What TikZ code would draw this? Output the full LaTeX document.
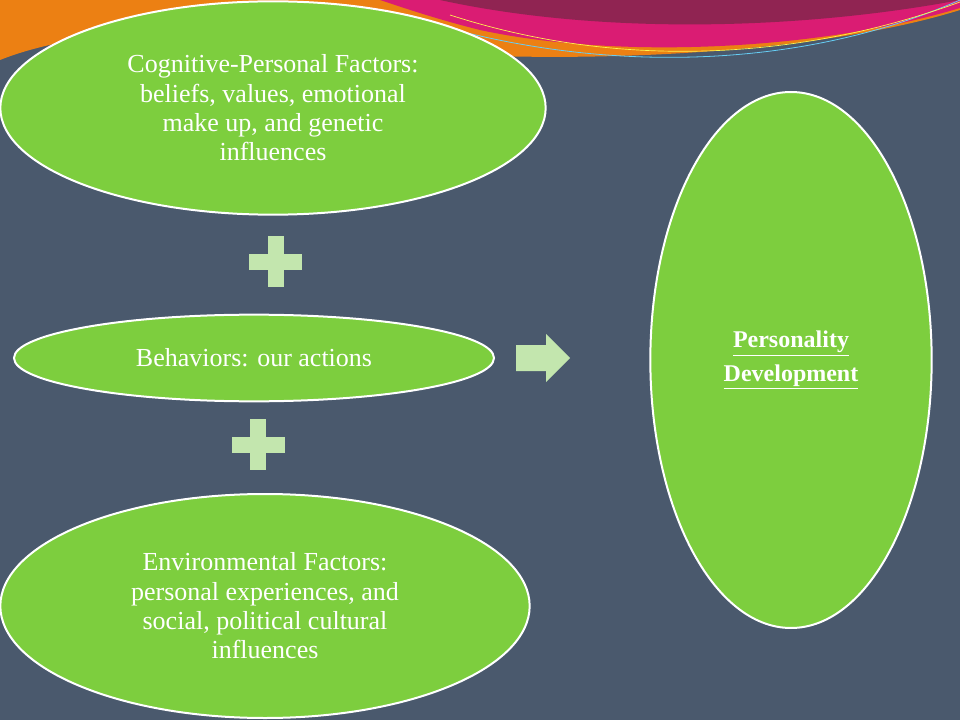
\documentclass[tikz,border=0pt]{standalone}
\usepackage{fontspec}
\usetikzlibrary{shapes.geometric}
\setmainfont{Liberation Serif}
\begin{document}
\begin{tikzpicture}[x=0.75pt,y=-0.75pt]
\definecolor{bg}{HTML}{4A596D}
\definecolor{gr}{HTML}{7DCE3E}
\definecolor{pl}{HTML}{C3E6AE}
\tikzset{ell/.style={ellipse,draw=white,line width=1.5pt,fill=gr,text=white,align=center,font=\fontsize{19.5}{22}\selectfont,inner sep=0pt},
plus/.style={fill=pl,draw=none}}
\fill[bg] (0,0) rectangle (960,720);
\useasboundingbox (0,0) rectangle (960,720);
% top swoosh
\fill[orange!70!brown] (0,0) -- (960,0) -- (960,10) .. controls (800,60) and (500,70) .. (300,40) .. controls (150,20) and (50,40) .. (0,60) -- cycle;
\fill[magenta!60!purple] (380,0) -- (960,0) -- (960,8) .. controls (820,50) and (620,60) .. (480,30) .. controls (440,20) and (410,10) .. (380,0) -- cycle;
\fill[purple!60!bg] (440,0) -- (960,0) .. controls (800,30) and (600,35) .. (440,0) -- cycle;
\draw[cyan!60,line width=0.6pt] (420,20) .. controls (600,75) and (800,70) .. (960,0);
\draw[yellow!70,line width=0.5pt] (450,15) .. controls (620,70) and (800,60) .. (960,2);
\node[ell,minimum width=409pt,minimum height=160pt] (cog) at (273,108) {Cognitive-Personal Factors:\\beliefs, values, emotional\\make up, and genetic\\influences};
\node[ell,minimum width=360pt,minimum height=65pt] (beh) at (254,358) {Behaviors: our actions};
\node[ell,minimum width=397pt,minimum height=168pt] (env) at (265,606) {Environmental Factors:\\personal experiences, and\\social, political cultural\\influences};
\node[ell,minimum width=211pt,minimum height=402pt,font=\fontsize{18}{25}\selectfont\bfseries] (pers) at (791,360) {\underline{Personality}\\\underline{Development}};
% plus signs
\fill[plus] (268,236) rectangle (284,287);
\fill[plus] (249,254) rectangle (302,270);
\fill[plus] (250,419) rectangle (266,470);
\fill[plus] (232,437) rectangle (285,453);
% arrow
\fill[plus] (516,345) -- (546,345) -- (546,334) -- (570,358) -- (546,382) -- (546,371) -- (516,371) -- cycle;
\end{tikzpicture}
\end{document}
